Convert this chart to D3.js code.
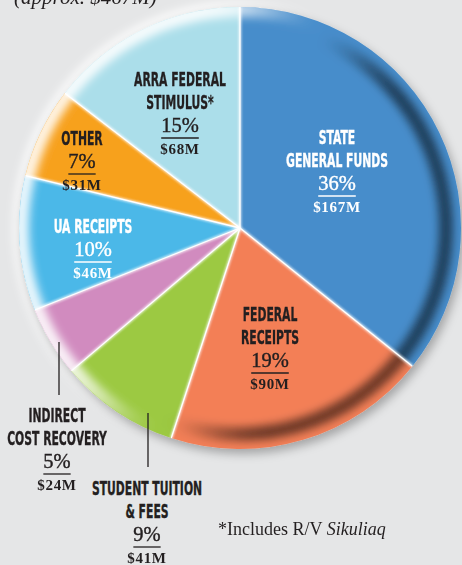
<!DOCTYPE html>
<html><head><meta charset="utf-8">
<script src="https://cdn.jsdelivr.net/npm/d3@7"></script>
<style>html,body{margin:0;padding:0;background:#e5e6e7;} svg{display:block;}</style>
</head><body>
<svg id="chart" width="462" height="565"></svg>
<script>
// ---- data ----
const categories = ["State General Funds","Federal Receipts","Student Tuition & Fees","Indirect Cost Recovery","UA Receipts","Other","ARRA Federal Stimulus*"];
const amounts = [167, 90, 41, 24, 46, 31, 68];            // $M, total approx. 467
const percentLabels = ["36%","19%","9%","5%","10%","7%","15%"];
const amountLabels = ["$167M","$90M","$41M","$24M","$46M","$31M","$68M"];
const nameLines = [["STATE","GENERAL FUNDS"],["FEDERAL","RECEIPTS"],["STUDENT TUITION","& FEES"],["INDIRECT","COST RECOVERY"],["UA RECEIPTS"],["OTHER"],["ARRA FEDERAL","STIMULUS*"]];
const totalLabel = "(approx. $467M)";
const footnoteParts = ["*Includes R/V ", "Sikuliaq"];

// ---- styles / layout ----
const colors = ["#478dcb","#f37f57","#9cc942","#d18bbf","#4bb8e8","#f7a11e","#abdeea"];
const labelLayout = [
  {x:337, y:144, fill:"#ffffff"},
  {x:270, y:321, fill:"#231f20"},
  {x:147, y:495, fill:"#231f20", leader:{x:148, y1:413, y2:467}},
  {x:57,  y:422, fill:"#231f20", leader:{x:59, y1:342, y2:395}},
  {x:93,  y:233, fill:"#ffffff"},
  {x:82,  y:145, fill:"#231f20"},
  {x:180, y:86,  fill:"#231f20"}
];
const cx = 240, cy = 228, R = 221;
const sansFont = "'Liberation Sans Narrow','DejaVu Sans Condensed',sans-serif";
const serifFont = "'Liberation Serif','DejaVu Serif',serif";

const svg = d3.select("#chart");
svg.append("rect").attr("width",462).attr("height",565).attr("fill","#e5e6e7");
const defs = svg.append("defs");
const sh = defs.append("filter").attr("id","shadow").attr("x","-20%").attr("y","-20%").attr("width","140%").attr("height","140%");
sh.append("feDropShadow").attr("dx",3).attr("dy",5).attr("stdDeviation",5).attr("flood-color","#000").attr("flood-opacity",0.28);
defs.append("filter").attr("id","blur").attr("x","-20%").attr("y","-20%").attr("width","140%").attr("height","140%")
  .append("feGaussianBlur").attr("stdDeviation",4.5);
defs.append("filter").attr("id","blurS").attr("x","-20%").attr("y","-20%").attr("width","140%").attr("height","140%")
  .append("feGaussianBlur").attr("stdDeviation",1);
defs.append("clipPath").attr("id","pieClip").append("circle").attr("cx",cx).attr("cy",cy).attr("r",R);

const pieGen = d3.pie().sort(null).value(d => d);
const arcs = pieGen(amounts);
const arc = d3.arc().innerRadius(0).outerRadius(R);

const rad = Math.PI/180;
const smooth = (e0,e1,x)=>{const t=Math.max(0,Math.min(1,(x-e0)/(e1-e0)));return t*t*(3-2*t);};
const darkness = a => smooth(0.0, 0.5, Math.cos((a-110)*rad));
const lightness = a => smooth(0.0, 0.55, Math.cos((a-290)*rad));
const stepDeg = 3;
const segs = d3.range(0, 360, stepDeg);

// halo behind pie (upper-left)
const halo = svg.append("g").attr("transform",`translate(${cx},${cy})`).attr("filter","url(#blur)");
halo.selectAll("path").data(segs).join("path")
  .attr("d", a => d3.arc().innerRadius(R-4).outerRadius(R+6).startAngle(a*rad).endAngle((a+stepDeg+0.5)*rad)())
  .attr("fill","#ffffff").attr("opacity", a => 0.8*lightness(a));

// slices
const pieG = svg.append("g").attr("filter","url(#shadow)");
const sliceG = pieG.append("g").attr("transform",`translate(${cx},${cy})`);
sliceG.selectAll("path.slice").data(arcs).join("path").attr("class","slice")
  .attr("d", arc).attr("fill",(d,i)=>colors[i]);

// shading band (clipped to pie)
const shadeOuter = pieG.append("g").attr("clip-path","url(#pieClip)");
const darkG = shadeOuter.append("g").attr("filter","url(#blur)").append("g").attr("transform",`translate(${cx},${cy})`);
darkG.selectAll("path").data(segs).join("path")
  .attr("d", a => d3.arc().innerRadius(R-22).outerRadius(R-8).startAngle(a*rad).endAngle((a+stepDeg+0.5)*rad)())
  .attr("fill","#000").attr("opacity", a => 0.5*darkness(a));
const lightG = shadeOuter.append("g").attr("filter","url(#blur)").append("g").attr("transform",`translate(${cx},${cy})`);
lightG.selectAll("path").data(segs).join("path")
  .attr("d", a => d3.arc().innerRadius(R-10).outerRadius(R+6).startAngle(a*rad).endAngle((a+stepDeg+0.5)*rad)())
  .attr("fill","#fff").attr("opacity", a => 0.85*lightness(a));

// separators
const sepG = shadeOuter.append("g").attr("transform",`translate(${cx},${cy})`);
const sepEnd = d => [R*Math.sin(d.startAngle), -R*Math.cos(d.startAngle)];
sepG.append("g").attr("filter","url(#blurS)").selectAll("line").data(arcs).join("line")
  .attr("x1",0).attr("y1",0).attr("x2",d=>sepEnd(d)[0]).attr("y2",d=>sepEnd(d)[1])
  .attr("stroke","#fff").attr("stroke-width",3).attr("opacity",0.7);
sepG.append("g").selectAll("line").data(arcs).join("line")
  .attr("x1",0).attr("y1",0).attr("x2",d=>sepEnd(d)[0]).attr("y2",d=>sepEnd(d)[1])
  .attr("stroke","#fff").attr("stroke-width",1.3);

// title (cropped at top, as in the source)
svg.append("text").attr("x",14).attr("y",4).attr("font-family",serifFont).attr("font-style","italic")
  .attr("font-size",21).attr("fill","#231f20").text(totalLabel);

// labels
const labelsG = svg.append("g");
const nameSize = 19.5;
const probe = labelsG.append("text").attr("font-family",sansFont).attr("font-weight","bold").attr("font-size",nameSize).text("GENERAL FUNDS");
const kx = 102 / probe.node().getComputedTextLength();
probe.remove();

labelLayout.forEach((L,i) => {
  const g = labelsG.append("g");
  const lines = nameLines[i];
  lines.forEach((t,j) => {
    g.append("text").attr("transform",`translate(${L.x},${L.y + j*23}) scale(${kx},1)`)
      .attr("text-anchor","middle").attr("font-family",sansFont).attr("font-weight","bold")
      .attr("font-size",nameSize).attr("fill",L.fill).attr("stroke",L.fill).attr("stroke-width",0.35).text(t);
  });
  const py = L.y + (lines.length-1)*23 + 23;
  const pt = g.append("text").attr("x",L.x).attr("y",py).attr("text-anchor","middle")
    .attr("font-family",serifFont).attr("font-size",20.5).attr("fill",L.fill)
    .attr("stroke",L.fill).attr("stroke-width",0.4).text(percentLabels[i]);
  const w = pt.node().getComputedTextLength();
  g.append("line").attr("x1",L.x - w/2).attr("x2",L.x + w/2).attr("y1",py+6).attr("y2",py+6)
    .attr("stroke",L.fill).attr("stroke-width",1.3);
  g.append("text").attr("x",L.x).attr("y",py+21.5).attr("text-anchor","middle")
    .attr("font-family",serifFont).attr("font-weight","bold").attr("font-size",15).attr("letter-spacing",0.7)
    .attr("fill",L.fill).text(amountLabels[i]);
  if (L.leader) {
    g.append("line").attr("x1",L.leader.x).attr("x2",L.leader.x).attr("y1",L.leader.y1).attr("y2",L.leader.y2)
      .attr("stroke","#231f20").attr("stroke-width",1.3);
  }
});

// footnote
const fn = svg.append("text").attr("x",218).attr("y",535).attr("font-family",serifFont).attr("font-size",18).attr("fill","#231f20");
fn.append("tspan").text(footnoteParts[0]);
fn.append("tspan").attr("font-style","italic").text(footnoteParts[1]);
</script>
</body></html>
